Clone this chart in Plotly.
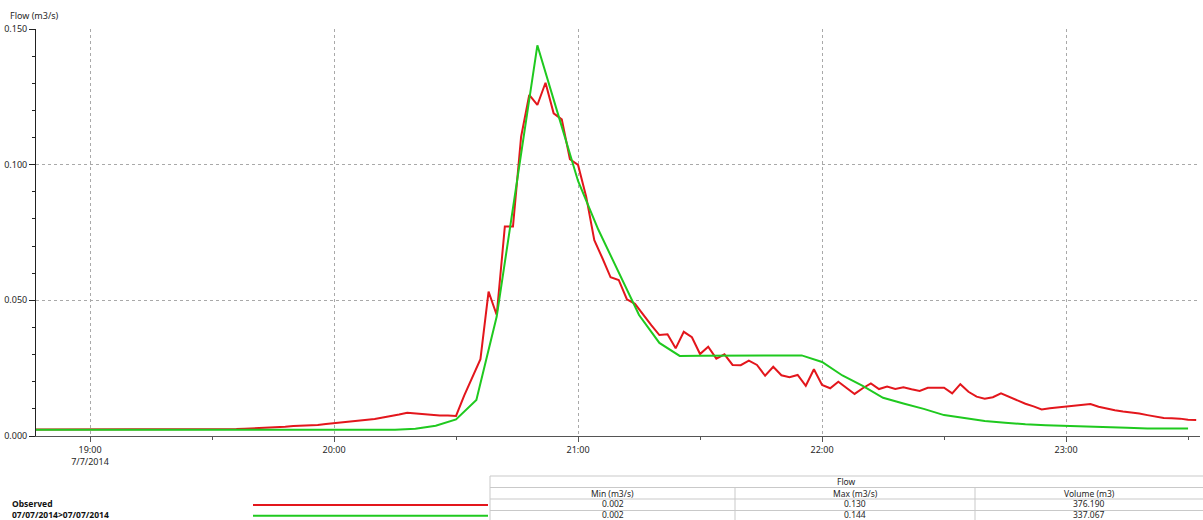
import pandas as pd
import plotly.graph_objects as go

# ---- data -----------------------------------------------------------------
# Observed flow, logged every 2 minutes from 18:46 to 23:32 (m3/s)
observed_start = "2014-07-07 18:46"
observed_flow = [
    0.0024, 0.0024, 0.0024, 0.0024, 0.0024, 0.0024, 0.0024, 0.0024,   # 18:46-19:00
    0.0024, 0.0024, 0.0024, 0.0024, 0.0024, 0.0024, 0.0024, 0.0024,   # 19:02-19:16
    0.0024, 0.0024, 0.0024, 0.0024, 0.0024, 0.0024, 0.0024, 0.0024,   # 19:18-19:32
    0.0025, 0.0026, 0.0027, 0.0028, 0.0029, 0.0030, 0.0031, 0.0034,   # 19:34-19:48
    0.0037, 0.0038, 0.0040, 0.0041, 0.0044, 0.0047, 0.0049, 0.0052,   # 19:50-20:04
    0.0055, 0.0059, 0.0063, 0.0068, 0.0073, 0.0079, 0.0086, 0.0083,   # 20:06-20:20
    0.0080, 0.0077, 0.0076, 0.0076, 0.0074, 0.0149, 0.0219, 0.0283,   # 20:22-20:36
    0.0532, 0.0446, 0.0772, 0.0772, 0.1103, 0.1257, 0.1220, 0.1302,   # 20:38-20:52
    0.1189, 0.1167, 0.1020, 0.0999, 0.0882, 0.0722, 0.0655, 0.0585,   # 20:54-21:08
    0.0575, 0.0504, 0.0487, 0.0446, 0.0409, 0.0372, 0.0375, 0.0323,   # 21:10-21:24
    0.0384, 0.0364, 0.0302, 0.0329, 0.0285, 0.0301, 0.0262, 0.0261,   # 21:26-21:40
    0.0278, 0.0262, 0.0222, 0.0255, 0.0224, 0.0217, 0.0225, 0.0185,   # 21:42-21:56
    0.0246, 0.0188, 0.0176, 0.0200, 0.0178, 0.0155, 0.0176, 0.0194,   # 21:58-22:12
    0.0173, 0.0182, 0.0173, 0.0180, 0.0172, 0.0166, 0.0178, 0.0178,   # 22:14-22:28
    0.0178, 0.0157, 0.0191, 0.0163, 0.0145, 0.0137, 0.0143, 0.0157,   # 22:30-22:44
    0.0144, 0.0130, 0.0119, 0.0109, 0.0098, 0.0102, 0.0105, 0.0108,   # 22:46-23:00
    0.0111, 0.0114, 0.0118, 0.0108, 0.0101, 0.0095, 0.0090, 0.0087,   # 23:02-23:16
    0.0083, 0.0077, 0.0072, 0.0066, 0.0065, 0.0064, 0.0060, 0.0059,   # 23:18-23:32
]

# Modelled flow, every 5 minutes from 18:45 to 23:30 (m3/s)
model_start = "2014-07-07 18:45"
model_flow = [
    0.0023, 0.0023, 0.0023, 0.0023, 0.0023, 0.0023, 0.0023, 0.0023,   # 18:45-19:20
    0.0023, 0.0023, 0.0023, 0.0023, 0.0023, 0.0023, 0.0023, 0.0023,   # 19:25-20:00
    0.0023, 0.0023, 0.0023, 0.0027, 0.0038, 0.0061, 0.0133, 0.0440,   # 20:05-20:40
    0.0940, 0.1440, 0.1190, 0.0940, 0.0760, 0.0605, 0.0446, 0.0343,   # 20:45-21:20
    0.0295, 0.0296, 0.0296, 0.0297, 0.0297, 0.0297, 0.0297, 0.0273,   # 21:25-22:00
    0.0223, 0.0185, 0.0141, 0.0120, 0.0100, 0.0077, 0.0065, 0.0055,   # 22:05-22:40
    0.0049, 0.0043, 0.0040, 0.0037, 0.0035, 0.0032, 0.0030, 0.0028,   # 22:45-23:20
    0.0028, 0.0028,                                                   # 23:25-23:30
]

series_names = ["Observed", "07/07/2014>07/07/2014"]
series_volume = ["376.190", "337.067"]
table_title = "Flow"
table_columns = ["Min (m3/s)", "Max (m3/s)", "Volume (m3)"]

x_tick_vals = ["2014-07-07 19:00", "2014-07-07 20:00", "2014-07-07 21:00",
               "2014-07-07 22:00", "2014-07-07 23:00"]
x_tick_text = ["19:00<br>7/7/2014", "20:00", "21:00", "22:00", "23:00"]
y_tick_vals = [0.0, 0.05, 0.10, 0.15]
x_range = ["2014-07-07 18:46:43", "2014-07-07 23:32:56"]

# ---- styling --------------------------------------------------------------
RED = "#e3161c"
GREEN = "#1fc91f"
TEXT = "#262626"
TABLE_LINE = "#c9c9c9"
FONT = "Noto Sans"

W, H = 1203, 520
ML, MR, MT, MB = 36, 3, 29, 84
PW, PH = W - ML - MR, H - MT - MB


def px(x):
    return (x - ML) / PW


def py(y):
    return (H - MB - y) / PH


obs_time = pd.date_range(observed_start, periods=len(observed_flow), freq="2min")
mod_time = pd.date_range(model_start, periods=len(model_flow), freq="5min")

fig = go.Figure()
fig.add_trace(go.Scatter(x=obs_time, y=observed_flow, mode="lines",
                         line=dict(color=RED, width=2), name=series_names[0],
                         hoverinfo="skip"))
fig.add_trace(go.Scatter(x=mod_time, y=model_flow, mode="lines",
                         line=dict(color=GREEN, width=2), name=series_names[1],
                         hoverinfo="skip"))

fig.update_layout(
    width=W, height=H,
    margin=dict(l=ML, r=MR, t=MT, b=MB, pad=0),
    paper_bgcolor="white", plot_bgcolor="white",
    showlegend=False,
    font=dict(family=FONT, size=9, color=TEXT),
)
fig.update_xaxes(
    type="date", range=x_range,
    tickmode="array", tickvals=x_tick_vals, ticktext=x_tick_text,
    ticks="outside", ticklen=5, tickcolor="#555555", tickwidth=1,
    showline=True, linecolor="#555555", linewidth=1,
    showgrid=True, gridcolor="#a9a9a9", griddash="dot", gridwidth=1,
    zeroline=False,
    minor=dict(dtick=30 * 60 * 1000, tick0="2014-07-07 18:30", ticks="outside",
               ticklen=3, tickcolor="#555555", showgrid=False),
    tickfont=dict(family=FONT, size=9, color=TEXT),
)
fig.update_yaxes(
    range=[0, 0.150],
    tickmode="array", tickvals=y_tick_vals, tickformat=".3f",
    ticks="outside", ticklen=6, tickcolor="#222222", tickwidth=1,
    showline=True, linecolor="#222222", linewidth=1,
    showgrid=True, gridcolor="#a9a9a9", griddash="dot", gridwidth=1,
    zeroline=False,
    minor=dict(dtick=0.01, tick0=0, ticks="outside",
               ticklen=3, tickcolor="#222222", showgrid=False),
    tickfont=dict(family=FONT, size=9, color=TEXT),
)


def label(text, x, y, anchor="center", color=TEXT, size=9):
    return dict(text=text, xref="paper", yref="paper", x=px(x), y=py(y),
                xanchor=anchor, yanchor="middle", showarrow=False, borderpad=0,
                font=dict(family=FONT, size=size, color=color))


annotations = [label("Flow (m3/s)", 9, 16, "left")]
shapes = []

# Legend rows with their statistics table underneath the chart
ROW_SIZE = 8.5
rows_y = [503.9, 514.8]
colors = [RED, GREEN]
all_series = [observed_flow, model_flow]
for name, yrow, col in zip(series_names, rows_y, colors):
    annotations.append(label(f"<b>{name}</b>", 11, yrow, "left", "#111111", ROW_SIZE))
    shapes.append(dict(type="line", xref="paper", yref="paper",
                       x0=px(253), x1=px(488), y0=py(yrow + 1), y1=py(yrow + 1),
                       line=dict(color=col, width=2)))

t_left, t_right = 490, 1203
col_edges = [490, 735, 975, 1203]
line_ys = [476, 487.5, 499, 510.5]
for ly in line_ys:
    shapes.append(dict(type="line", xref="paper", yref="paper",
                       x0=px(t_left), x1=px(t_right), y0=py(ly), y1=py(ly),
                       line=dict(color=TABLE_LINE, width=1)))
shapes.append(dict(type="line", xref="paper", yref="paper",
                   x0=px(t_left), x1=px(t_left), y0=py(476), y1=py(522),
                   line=dict(color=TABLE_LINE, width=1)))
for cx in col_edges[1:3]:
    shapes.append(dict(type="line", xref="paper", yref="paper",
                       x0=px(cx), x1=px(cx), y0=py(487.5), y1=py(522),
                       line=dict(color=TABLE_LINE, width=1)))

annotations.append(label(table_title, (t_left + t_right) / 2, 481.8, size=ROW_SIZE))
for i, head in enumerate(table_columns):
    annotations.append(label(head, (col_edges[i] + col_edges[i + 1]) / 2, 493.3,
                             size=ROW_SIZE))

for vals, vol, yrow in zip(all_series, series_volume, rows_y):
    cells = [f"{min(vals):.3f}", f"{max(vals):.3f}", vol]
    for i, cell in enumerate(cells):
        annotations.append(label(cell, (col_edges[i] + col_edges[i + 1]) / 2, yrow,
                                 size=ROW_SIZE))

fig.update_layout(annotations=annotations, shapes=shapes)
fig.write_html("out.html")
